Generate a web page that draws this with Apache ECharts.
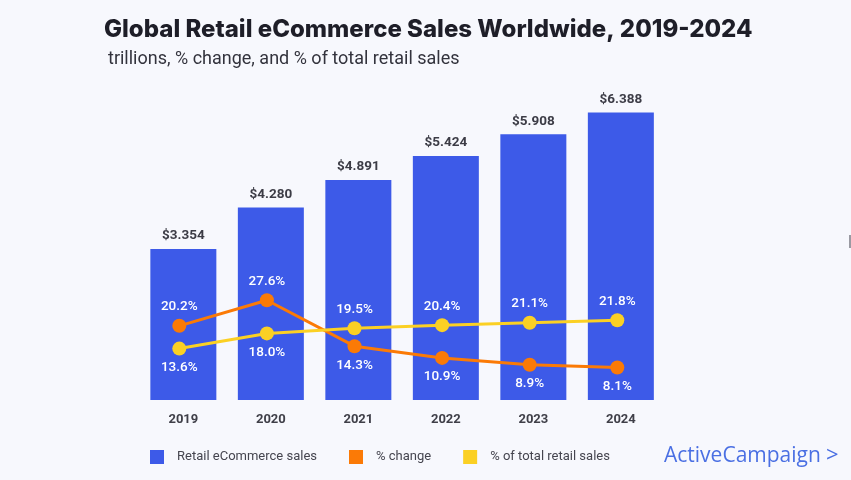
<!DOCTYPE html>
<html>
<head>
<meta charset="utf-8">
<script src="https://cdn.jsdelivr.net/npm/echarts@6/dist/echarts.min.js"></script>
<style>
html,body{margin:0;padding:0;background:#f7f8fd;}
#chart{width:851px;height:480px;}
</style>
</head>
<body>
<div id="chart"></div>
<script>
const years = ['2019', '2020', '2021', '2022', '2023', '2024'];
const sales = [3.354, 4.280, 4.891, 5.424, 5.908, 6.388];
const pctChange = [20.2, 27.6, 14.3, 10.9, 8.9, 8.1];
const pctTotal = [13.6, 18.0, 19.5, 20.4, 21.1, 21.8];
const seriesNames = ['Retail eCommerce sales', '% change', '% of total retail sales'];

const BLUE = '#3d5ae8', ORANGE = '#fb7a06', YELLOW = '#fbd024';
const FONT = 'Roboto, "Noto Sans", sans-serif';

function lineData(vals, other) {
  return vals.map((v, i) => ({
    value: v,
    label: { position: v >= other[i] ? 'top' : 'bottom' }
  }));
}

const chart = echarts.init(document.getElementById('chart'), null, { renderer: 'canvas' });
chart.setOption({
  backgroundColor: '#f7f8fd',
  animation: false,
  title: [
    { text: 'Global Retail eCommerce Sales Worldwide, 2019-2024', left: 104, top: 18, padding: 0,
      textStyle: { fontFamily: 'Inter, sans-serif', fontWeight: 800, fontSize: 24, color: '#1e1e28' } },
    { text: 'trillions, % change, and % of total retail sales', left: 108, top: 50, padding: 0,
      textStyle: { fontFamily: FONT, fontWeight: 400, fontSize: 18, color: '#33333d' } }
  ],
  grid: [
    { left: 139.6, right: 186.4, top: 85, bottom: 80 },
    { left: 135.5, right: 189.9, top: 85, bottom: 80 }
  ],
  legend: {
    left: 150, top: 450, padding: 0, icon: 'rect', itemWidth: 14, itemHeight: 14, itemGap: 32,
    data: seriesNames,
    textStyle: { fontFamily: FONT, fontSize: 13, color: '#45454f', padding: [0, 0, 0, 8] }
  },
  xAxis: [
    { type: 'category', gridIndex: 0, data: years,
      axisLine: { show: false }, axisTick: { show: false },
      axisLabel: { margin: 13, fontFamily: FONT, fontWeight: 'bold', fontSize: 13, color: '#3f3f48' } },
    { type: 'category', gridIndex: 1, data: years, show: false }
  ],
  yAxis: [
    { type: 'value', gridIndex: 0, min: 0, max: 7, show: false, splitLine: { show: false } },
    { type: 'value', gridIndex: 1, min: -1.3, max: 90, show: false, splitLine: { show: false } }
  ],
  series: [
    { name: seriesNames[0], type: 'bar', xAxisIndex: 0, yAxisIndex: 0, data: sales,
      barWidth: 66, itemStyle: { color: BLUE },
      label: { show: true, position: 'top', distance: 6, fontFamily: FONT, fontWeight: 'bold', fontSize: 13.5,
        color: '#3c3c46', formatter: p => '$' + p.value.toFixed(3) } },
    { name: seriesNames[1], type: 'line', xAxisIndex: 1, yAxisIndex: 1,
      data: lineData(pctChange, pctTotal), z: 3,
      symbol: 'circle', symbolSize: 14, lineStyle: { color: ORANGE, width: 3 },
      itemStyle: { color: ORANGE },
      label: { show: true, distance: 5, fontFamily: FONT, fontWeight: 500, fontSize: 13.5, color: '#ffffff',
        formatter: p => p.value.toFixed(1) + '%' } },
    { name: seriesNames[2], type: 'line', xAxisIndex: 1, yAxisIndex: 1,
      data: lineData(pctTotal, pctChange), z: 4,
      symbol: 'circle', symbolSize: 14, lineStyle: { color: YELLOW, width: 3 },
      itemStyle: { color: YELLOW },
      label: { show: true, distance: 5, fontFamily: FONT, fontWeight: 500, fontSize: 13.5, color: '#ffffff',
        formatter: p => p.value.toFixed(1) + '%' } }
  ],
  graphic: [
    { type: 'text', left: 664, top: 446,
      style: { text: 'ActiveCampaign', font: '400 21px "Open Sans", sans-serif', fill: '#4a6fe3' } },
    { type: 'text', left: 826, top: 445,
      style: { text: '>', font: '400 22px "Open Sans", sans-serif', fill: '#4a6fe3' } },
    { type: 'rect', left: 849, top: 235, shape: { width: 2, height: 13 }, style: { fill: '#9a9aa2' } }
  ]
});
</script>
</body>
</html>
